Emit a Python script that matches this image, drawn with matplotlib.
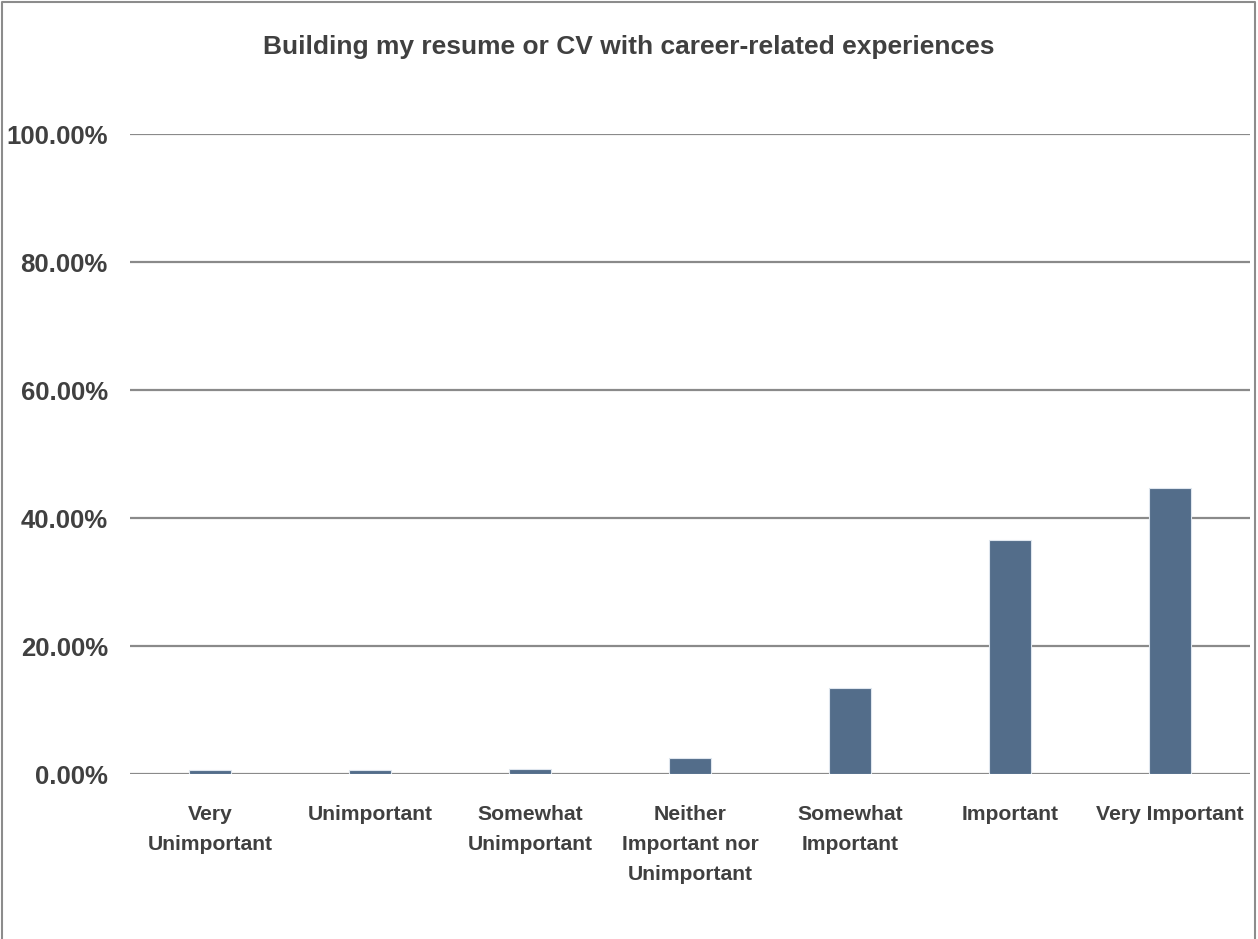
import matplotlib.pyplot as plt
from matplotlib.lines import Line2D
from matplotlib.ticker import FuncFormatter

categories = ["Very\nUnimportant", "Unimportant", "Somewhat\nUnimportant",
              "Neither\nImportant nor\nUnimportant", "Somewhat\nImportant",
              "Important", "Very Important"]
values = [0.68, 0.60, 0.78, 2.55, 13.5, 36.5, 44.7]
yticks = [0, 20, 40, 60, 80, 100]

plt.rcParams['font.family'] = ['Liberation Sans', 'DejaVu Sans']
plt.rcParams['font.weight'] = 'bold'

W, H = 1258, 939
fig = plt.figure(figsize=(W / 100, H / 100), dpi=100)
# outer frame, open at the bottom like the source screenshot
fx = [2 / W, 2 / W, 1255 / W, 1255 / W]
fy = [0, 1 - 2 / H, 1 - 2 / H, 0]
fig.lines.append(Line2D(fx, fy, transform=fig.transFigure, color='#8c8c8c', linewidth=1.5))

ax = fig.add_axes([130 / W, 1 - 774 / H, 1120 / W, 640 / H])
x = list(range(len(categories)))
ax.bar(x, values, width=0.26, color='#536d8a', edgecolor='#dfe6ee', linewidth=0.8, zorder=3)
ax.set_xlim(-0.5, len(categories) - 0.5)
ax.set_ylim(0, 100)
ax.set_yticks(yticks)
ax.yaxis.set_major_formatter(FuncFormatter(lambda v, p: f"{v:.2f}%"))
ax.grid(axis='y', color='#8a8a8a', linewidth=1.6, zorder=1)
for s in ax.spines.values():
    s.set_visible(False)
ax.tick_params(axis='both', length=0, colors='#404040')
ax.tick_params(axis='y', pad=16, labelsize=18.5)
ax.tick_params(axis='x', pad=22, labelsize=15.2)
ax.set_xticks(x)
ax.set_xticklabels(categories, linespacing=1.75, fontweight='bold')
for lab in ax.get_yticklabels():
    lab.set_fontweight('bold')

fig.text(0.5, 1 - 47 / H, "Building my resume or CV with career-related experiences",
         ha='center', va='center', fontsize=19, fontweight='bold', color='#404040')

fig.savefig("out.png", dpi=100)
